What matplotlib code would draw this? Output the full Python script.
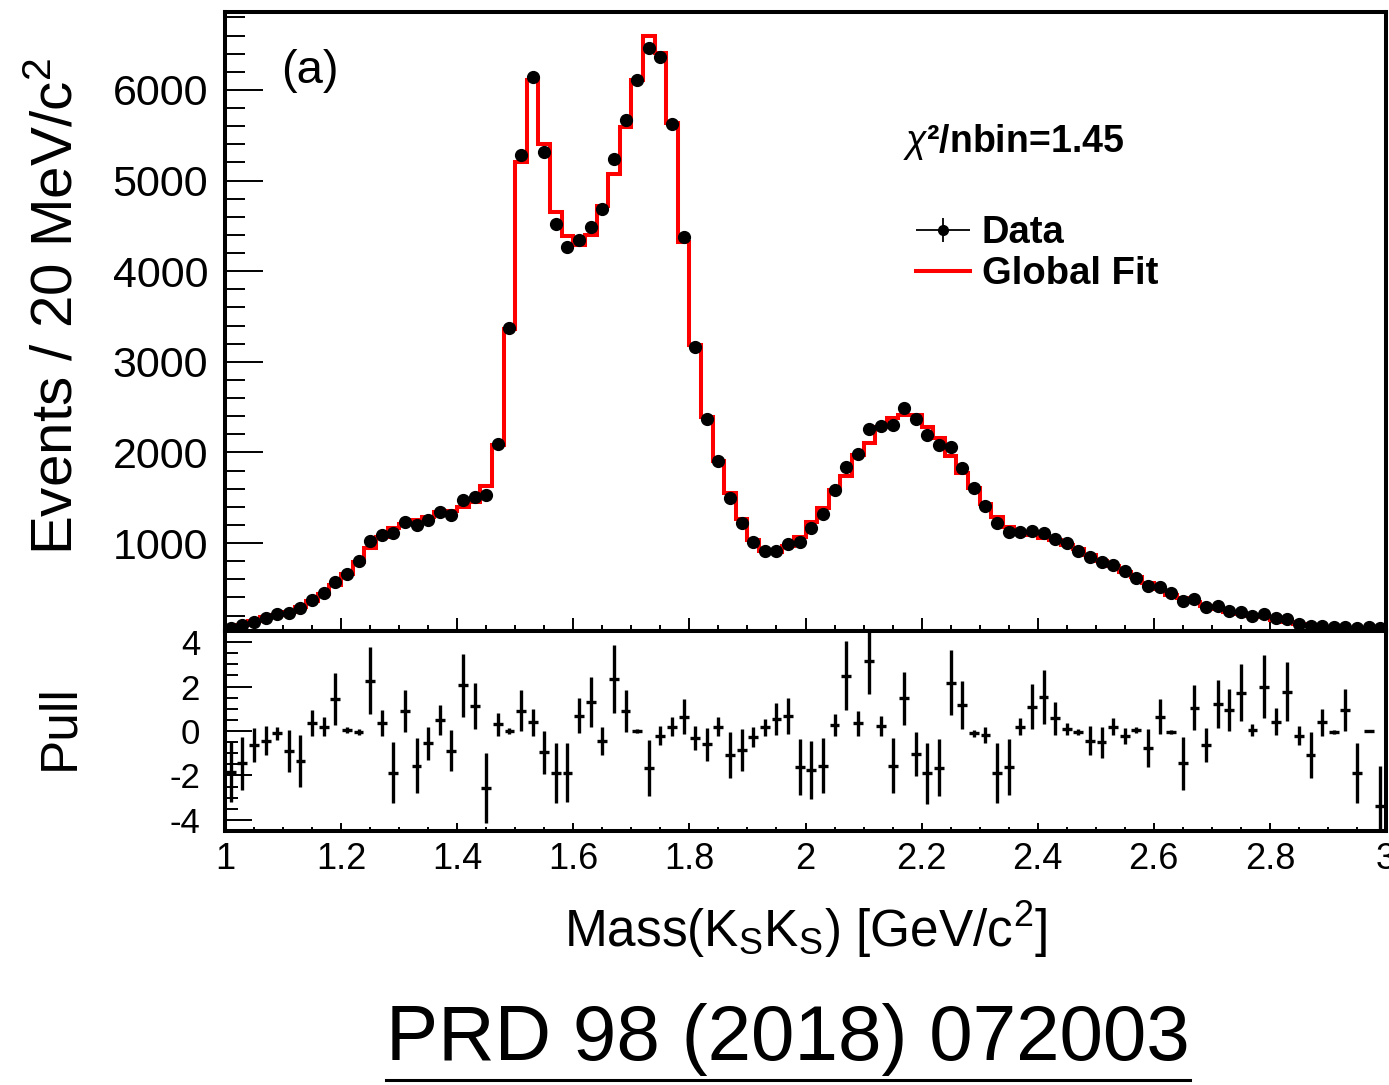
import numpy as np
import matplotlib
matplotlib.use("Agg")
import matplotlib.pyplot as plt
from matplotlib.ticker import MultipleLocator, FuncFormatter
from matplotlib.lines import Line2D
from matplotlib.collections import LineCollection
from matplotlib.container import ErrorbarContainer
from matplotlib.legend_handler import HandlerErrorbar

plt.rcParams['font.family'] = ['Liberation Sans', 'DejaVu Sans']
plt.rcParams['axes.unicode_minus'] = False
plt.rcParams['mathtext.fontset'] = 'custom'
plt.rcParams['mathtext.rm'] = 'Liberation Sans'
plt.rcParams['mathtext.it'] = 'Liberation Sans:italic'
plt.rcParams['mathtext.bf'] = 'Liberation Sans:bold'

# ---- binning: 100 bins of 20 MeV from 1.0 to 3.0 GeV ----
mass_lo, mass_hi, n_bins = 1.0, 3.0, 100

data_counts = [
    65, 95, 131, 169, 213, 231, 279, 371, 445, 573,
    654, 801, 1025, 1088, 1114, 1235, 1199, 1254, 1346, 1309,
    1475, 1504, 1530, 2093, 3375, 5283, 6140, 5319, 4521, 4271,
    4344, 4484, 4690, 5235, 5669, 6110, 6460, 6368, 5625, 4381,
    3167, 2369, 1909, 1493, 1224, 1015, 915, 915, 985, 1015,
    1162, 1320, 1585, 1842, 1982, 2258, 2295, 2302, 2487, 2365,
    2192, 2082, 2056, 1824, 1604, 1412, 1224, 1125, 1118, 1132,
    1107, 1041, 997, 915, 849, 794, 757, 694, 617, 529,
    511, 445, 360, 379, 297, 308, 253, 242, 194, 213,
    169, 158, 106, 84, 84, 76, 76, 58, 76, 65,
]

fit_counts = [
    58, 95, 143, 180, 205, 242, 290, 363, 437, 536,
    654, 787, 941, 1063, 1169, 1206, 1254, 1290, 1339, 1353,
    1394, 1456, 1633, 2082, 3362, 5209, 6110, 5404, 4650, 4392,
    4289, 4399, 4723, 5073, 5595, 6110, 6596, 6412, 5632, 4326,
    3185, 2394, 1909, 1548, 1261, 1033, 915, 897, 967, 1063,
    1235, 1383, 1585, 1743, 1971, 2107, 2284, 2376, 2413, 2413,
    2284, 2156, 1964, 1769, 1604, 1430, 1284, 1180, 1114, 1088,
    1059, 1033, 978, 930, 868, 805, 746, 683, 621, 555,
    489, 426, 390, 352, 305, 268, 242, 216, 194, 180,
    150, 131, 106, 84, 76, 70, 65, 62, 62, 62,
]

pull_values = [
    -1.84, -1.46, -0.63, -0.44, -0.11, -0.89, -1.35, 0.35, 0.20, 1.44,
    0.05, -0.03, 2.27, 0.35, -1.88, 0.90, -1.56, -0.56, 0.50, -0.89,
    2.05, 1.13, -2.56, 0.30, 0.00, 0.92, 0.39, -0.96, -1.91, -1.87,
    0.69, 1.32, -0.44, 2.35, 0.90, 0.00, -1.66, -0.21, 0.20, 0.65,
    -0.33, -0.60, 0.20, -1.08, -0.86, -0.26, 0.17, 0.54, 0.69, -1.61,
    -1.76, -1.56, 0.27, 2.48, 0.35, 3.17, 0.23, -1.56, 1.47, -1.04,
    -1.91, -1.66, 2.18, 1.17, -0.11, -0.18, -1.91, -1.64, 0.20, 1.10,
    1.52, 0.57, 0.09, -0.03, -0.44, -0.51, 0.20, -0.21, 0.05, -0.75,
    0.65, -0.03, -1.46, 1.05, -0.63, 1.20, 0.95, 1.73, 0.05, 2.00,
    0.42, 1.77, -0.21, -1.08, 0.39, -0.03, 0.95, -1.87, 0.00, -3.39,
]

pull_errors = [
    1.35, 1.20, 0.78, 0.66, 0.29, 0.94, 1.15, 0.58, 0.44, 1.19,
    0.14, 0.13, 1.49, 0.59, 1.37, 0.94, 1.24, 0.73, 0.68, 0.92,
    1.41, 1.05, 1.57, 0.53, 0.13, 0.93, 0.62, 0.96, 1.35, 1.33,
    0.80, 1.13, 0.64, 1.53, 0.94, 0.11, 1.26, 0.44, 0.41, 0.79,
    0.54, 0.75, 0.41, 1.02, 0.93, 0.45, 0.39, 0.73, 0.81, 1.26,
    1.29, 1.23, 0.50, 1.55, 0.56, 1.50, 0.45, 1.24, 1.20, 1.00,
    1.37, 1.28, 1.45, 1.08, 0.17, 0.34, 1.35, 1.26, 0.40, 1.03,
    1.22, 0.75, 0.29, 0.14, 0.66, 0.70, 0.39, 0.36, 0.14, 0.86,
    0.79, 0.09, 1.19, 1.01, 0.78, 1.08, 0.94, 1.28, 0.26, 1.41,
    0.62, 1.32, 0.44, 1.04, 0.60, 0.09, 0.94, 1.35, 0.06, 1.81,
]

edges = np.linspace(mass_lo, mass_hi, n_bins + 1)
centers = 0.5 * (edges[:-1] + edges[1:])

W, H = 1389, 1085
fig = plt.figure(figsize=(W / 100, H / 100), dpi=100)

left = 225 / W
width = (1386 - 225) / W
ax1 = fig.add_axes([left, 1 - 631 / H, width, (631 - 12.5) / H])
ax2 = fig.add_axes([left, 1 - 831 / H, width, 200 / H])

spine_w = 2.9
for ax in (ax1, ax2):
    for s in ax.spines.values():
        s.set_linewidth(spine_w)
    ax.set_xlim(mass_lo, mass_hi)
    ax.xaxis.set_major_locator(MultipleLocator(0.2))
    ax.xaxis.set_minor_locator(MultipleLocator(0.05))

# ---- upper panel ----
ax1.stairs(fit_counts, edges, color='#ff0000', lw=2.9, baseline=None, zorder=2)
ax1.plot(centers, data_counts, 'o', color='k', ms=8.5, zorder=3)
ax1.set_ylim(29, 6855)
ax1.yaxis.set_major_locator(MultipleLocator(1000))
ax1.yaxis.set_minor_locator(MultipleLocator(200))
ax1.tick_params(axis='y', which='major', direction='in', length=27, width=1.4,
                labelsize=31, pad=12, right=False)
ax1.tick_params(axis='y', which='minor', direction='in', length=14.5, width=1.4, right=False)
ax1.tick_params(axis='x', which='major', direction='in', length=9.2, width=1.4,
                labelbottom=False, top=False)
ax1.tick_params(axis='x', which='minor', direction='in', length=4.3, width=1.4, top=False)

ax1.set_ylabel(r'Events / 20 MeV/c$^{2}$', fontsize=42)
ax1.yaxis.label.set_va('center')
ax1.yaxis.set_label_coords(-0.1447, 0.525)

ax1.text(0.048, 0.886, '(a)', transform=ax1.transAxes, fontsize=34,
         ha='left', va='baseline')
ax1.text(0.584, 0.7745, r'$\chi$²/nbin=1.45', transform=ax1.transAxes,
         fontsize=27, fontweight='bold', ha='left', va='baseline')

# legend handles: data = marker with x/y error bars, fit = red line
leg_marker = Line2D([], [], ls='none', marker='o', color='k', ms=7)
leg_bars = LineCollection([], colors='k', linewidths=1.3)
data_handle = ErrorbarContainer((leg_marker, (), (leg_bars,)),
                                has_xerr=True, has_yerr=True, label='Data')
fit_handle = Line2D([], [], color='#ff0000', lw=2.9)
ax1.legend([data_handle, fit_handle], ['Data', 'Global Fit'],
           handler_map={ErrorbarContainer: HandlerErrorbar(xerr_size=0.71, yerr_size=0.32)},
           loc='upper left', bbox_to_anchor=(0.595, 0.672), frameon=False,
           borderpad=0, borderaxespad=0, handlelength=1.42, handletextpad=0.31,
           labelspacing=0.12, numpoints=1, prop={'weight': 'bold', 'size': 27.5})

# ---- pull panel ----
ax2.errorbar(centers, pull_values, yerr=pull_errors, xerr=0.0085, fmt='none',
             ecolor='k', elinewidth=2.4, capsize=0)
ax2.set_ylim(-4.5, 4.5)
ax2.yaxis.set_major_locator(MultipleLocator(2))
ax2.yaxis.set_minor_locator(MultipleLocator(0.5))
ax2.tick_params(axis='y', which='major', direction='in', length=19.5, width=1.4,
                labelsize=25, pad=18, right=False)
ax2.tick_params(axis='y', which='minor', direction='in', length=9.4, width=1.4, right=False)
ax2.tick_params(axis='x', which='major', direction='in', length=5.5, width=1.4,
                labelsize=26, pad=8, top=False)
ax2.tick_params(axis='x', which='minor', direction='in', length=2.6, width=1.4, top=False)
ax2.xaxis.set_major_formatter(FuncFormatter(lambda v, p: '%g' % round(v, 2)))

ax2.set_ylabel('Pull', fontsize=37)
ax2.yaxis.label.set_va('center')
ax2.yaxis.set_label_coords(-0.142, 0.52)

ax2.set_xlabel(r'Mass(K$_{\mathrm{S}}$K$_{\mathrm{S}}$) [GeV/c$^{2}$]', fontsize=37)
ax2.xaxis.label.set_va('top')
ax2.xaxis.set_label_coords(0.5, -0.34)

# ---- reference text with underline ----
ref = fig.text(788 / W, 1 - 1040 / H, 'PRD 98 (2018) 072003', fontsize=56.3,
               ha='center', va='center')
fig.canvas.draw()
bb = ref.get_window_extent(renderer=fig.canvas.get_renderer())
y_line = (bb.y0 - 3) / H
fig.add_artist(Line2D([bb.x0 / W, bb.x1 / W], [y_line, y_line],
                      transform=fig.transFigure, color='k', lw=2.2))

fig.savefig('out.png', dpi=100)
